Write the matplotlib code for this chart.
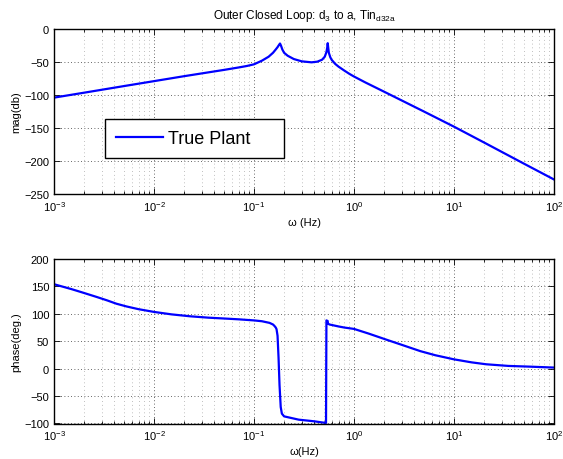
import matplotlib
matplotlib.use("Agg")
import matplotlib.pyplot as plt
import numpy as np
from matplotlib.ticker import LogLocator, NullFormatter, MultipleLocator

plt.rcParams['font.family'] = ['Liberation Sans', 'DejaVu Sans']
plt.rcParams['mathtext.fontset'] = 'custom'
plt.rcParams['mathtext.rm'] = 'Liberation Sans'
plt.rcParams['mathtext.it'] = 'Liberation Sans:italic'
plt.rcParams['mathtext.bf'] = 'Liberation Sans:bold'

# magnitude response (Hz, dB)
freq_mag = [0.001, 0.002, 0.005, 0.01, 0.02, 0.05, 0.072, 0.085, 0.1, 0.12, 0.14,
            0.155, 0.165, 0.172, 0.178, 0.182, 0.186, 0.192, 0.2, 0.217, 0.25,
            0.3, 0.376, 0.43, 0.48, 0.51, 0.53, 0.54, 0.546, 0.552, 0.56, 0.58,
            0.6, 0.65, 0.7, 0.8, 0.9, 1.0, 1.3, 2.0, 5.0, 10.0, 20.0, 50.0, 100.0]
mag_db = [-104, -96.5, -86.5, -79, -71.5, -62, -58, -56, -53.5, -48, -42,
          -36, -31, -27.5, -24, -22, -25, -31, -36, -40.5, -45.5,
          -49, -50.5, -49.5, -46.5, -42, -35, -28, -21.5, -28, -36, -43,
          -47, -53, -57, -63, -68, -72, -81, -95, -125, -148, -172, -204, -228]

# phase response (Hz, deg)
freq_ph = [0.001, 0.0015, 0.002, 0.0027, 0.0034, 0.0042, 0.0053, 0.007, 0.01,
           0.015, 0.023, 0.035, 0.05, 0.07, 0.1, 0.12, 0.143, 0.155, 0.16,
           0.165, 0.168, 0.172, 0.176, 0.18, 0.185, 0.19, 0.2, 0.28, 0.4, 0.5,
           0.525, 0.53, 0.545, 0.55, 0.57, 0.7, 0.8, 1.0, 1.4, 2.1, 3.0, 4.6,
           6.5, 10.0, 15.0, 21.0, 35.0, 57.0, 100.0]
phase_deg = [154, 145, 138, 130.5, 124.5, 118.5, 113.5, 108.5, 103.5,
             99, 95.5, 93, 91.5, 90, 88, 86.5, 83.5, 80.5, 78,
             75, 72, 60, 20, -30, -70, -82, -87, -93, -96, -98.5,
             -99, 88, 87, 82, 80.5, 77, 75, 72.5, 64, 53, 43.5, 32,
             24.5, 17, 11.5, 8, 5, 3.7, 2]

BLUE = '#0000ff'

fig = plt.figure(figsize=(5.63, 4.6), dpi=100)
ax1 = fig.add_axes([54 / 563, 1 - 195 / 460, 500 / 563, 165 / 460])
ax2 = fig.add_axes([54 / 563, 1 - 424.5 / 460, 500 / 563, 164.5 / 460])


def matlab_style(ax, ylim, ystep):
    ax.set_xscale('log')
    ax.set_xlim(1e-3, 1e2)
    ax.set_ylim(*ylim)
    ax.yaxis.set_major_locator(MultipleLocator(ystep))
    ax.xaxis.set_major_locator(LogLocator(base=10, numticks=10))
    ax.xaxis.set_minor_locator(LogLocator(base=10, subs=np.arange(2, 10), numticks=50))
    ax.xaxis.set_minor_formatter(NullFormatter())
    ax.tick_params(which='both', direction='in', top=True, right=True,
                   labelsize=8, width=0.6)
    ax.tick_params(which='major', length=4)
    ax.tick_params(which='minor', length=2)
    ax.grid(True, which='major', linestyle=(0, (1, 3)), color='#333333', linewidth=0.6)
    ax.grid(True, which='minor', axis='x', linestyle=(0, (1, 3.5)),
            color='#aaaaaa', linewidth=0.6)
    for s in ax.spines.values():
        s.set_linewidth(1.0)


matlab_style(ax1, (-250, 0), 50)
matlab_style(ax2, (-100, 200), 50)

ax1.plot(freq_mag, mag_db, color=BLUE, linewidth=1.6, label='True Plant')
ax1.set_ylabel('mag(db)', fontsize=8, labelpad=2)
ax1.set_xlabel('ω (Hz)', fontsize=8, labelpad=3)
ax1.set_title(r'Outer Closed Loop: d$_3$ to a, Tin$_{\mathrm{d32a}}$', fontsize=8.5, pad=8)
ax1.legend(loc='upper left', bbox_to_anchor=(0.102, 0.23, 0.358, 0.2245),
           mode='expand', borderaxespad=0, fontsize=13, handlelength=2.6,
           handletextpad=0.3, fancybox=False, framealpha=1, edgecolor='black',
           borderpad=0.6)
ax1.get_legend().get_frame().set_linewidth(1.0)

ax2.plot(freq_ph, phase_deg, color=BLUE, linewidth=1.6)
ax2.set_ylabel('phase(deg.)', fontsize=8, labelpad=2)
ax2.set_xlabel('ω(Hz)', fontsize=8, labelpad=3)

fig.savefig('out.png', dpi=100)
